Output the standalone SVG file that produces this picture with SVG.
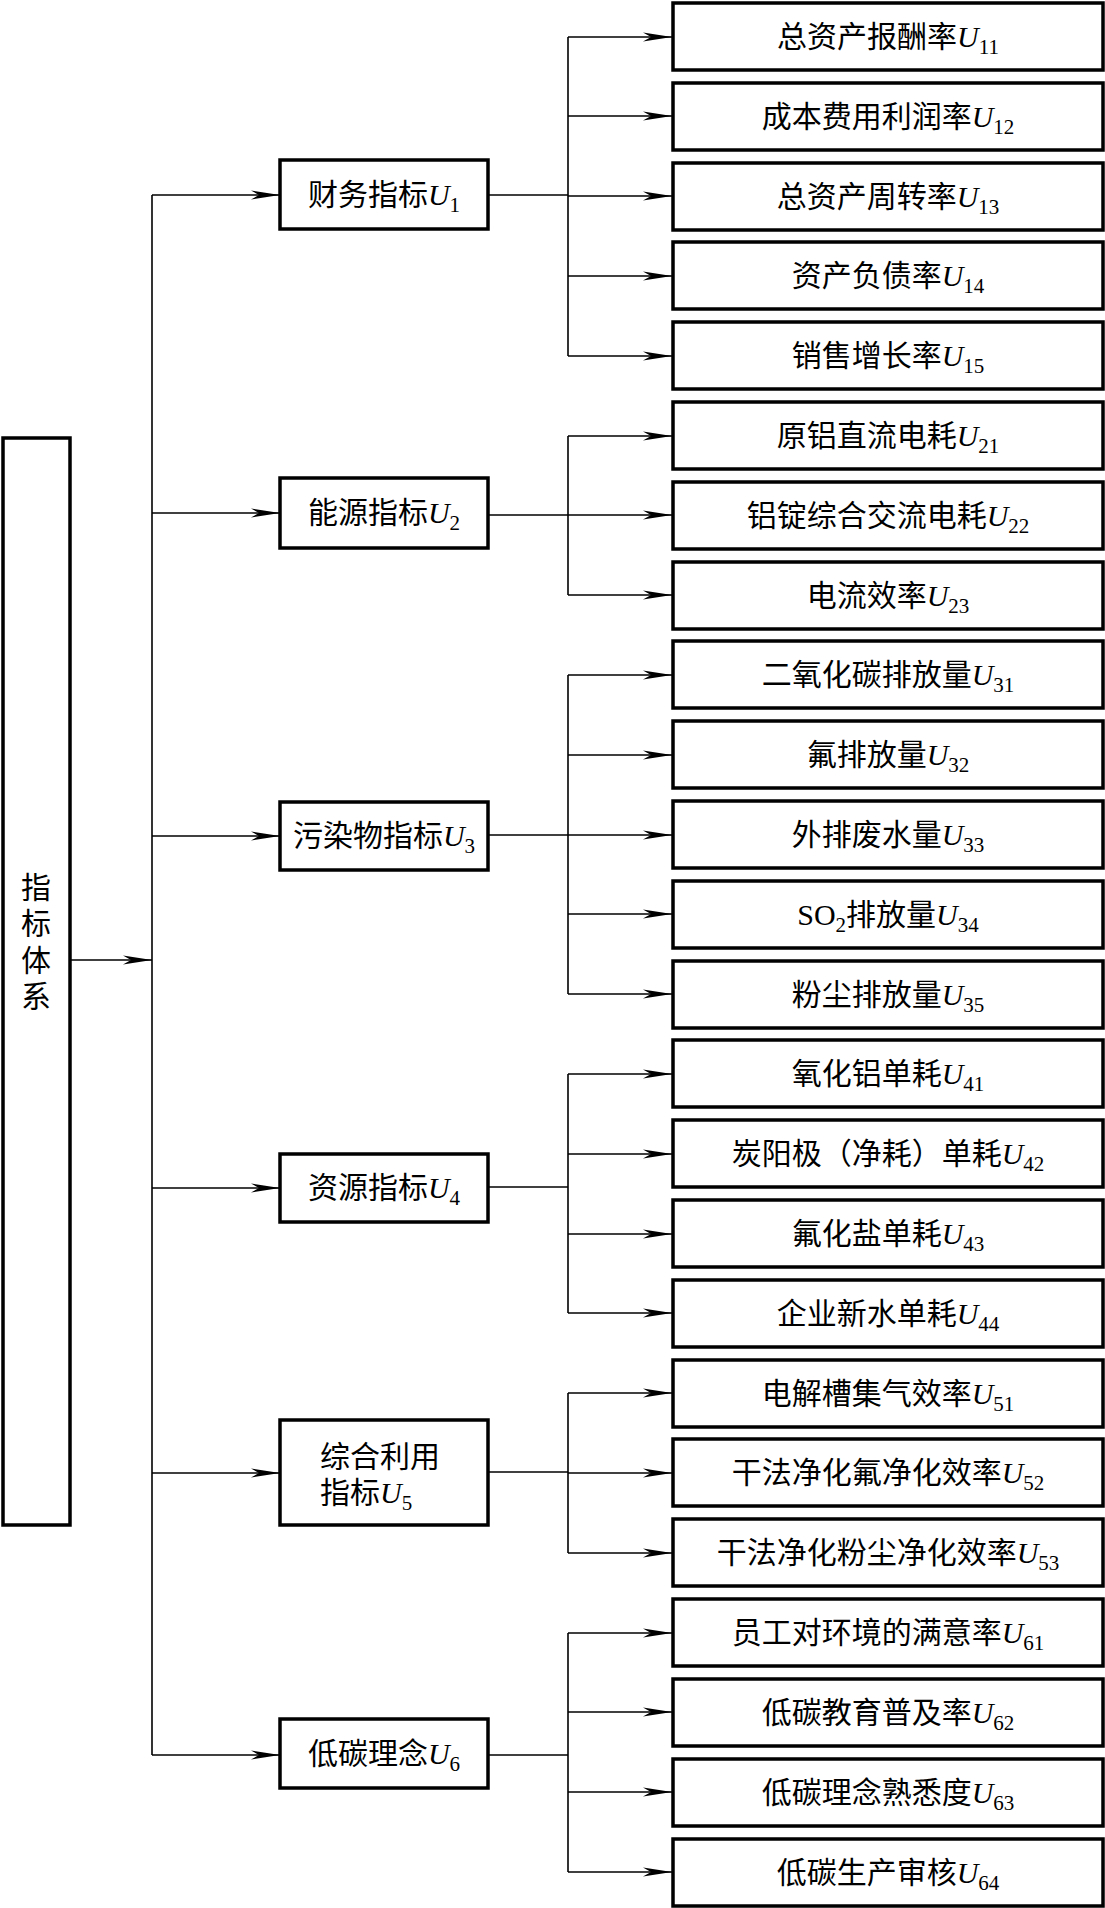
<svg xmlns="http://www.w3.org/2000/svg" width="1105" height="1908" viewBox="0 0 1105 1908">
<style>
.box{fill:#fff;stroke:#000;stroke-width:3.5}
.ln{stroke:#000;stroke-width:1.6;fill:none}
.t{font-family:"Liberation Serif","Noto Sans CJK SC",serif;font-size:30px;fill:#000}
.c{text-anchor:middle}
.u{font-style:italic}
.s{font-size:21px}
</style>
<defs>
<marker id="ah" markerUnits="userSpaceOnUse" markerWidth="30" markerHeight="12" refX="29" refY="5" orient="auto">
<path d="M0,0.5 L29,5 L0,9.5 L8,5 Z" fill="#000"/>
</marker>
</defs>
<rect width="1105" height="1908" fill="#fff"/>

<g id="connectors">
<!-- root to trunk -->
<line class="ln" x1="70" y1="960" x2="152" y2="960" marker-end="url(#ah)"/>
<line class="ln" x1="152" y1="195" x2="152" y2="1755"/>
<!-- trunk to mid -->
<line class="ln" x1="152" y1="195" x2="280" y2="195" marker-end="url(#ah)"/>
<line class="ln" x1="152" y1="513" x2="280" y2="513" marker-end="url(#ah)"/>
<line class="ln" x1="152" y1="836" x2="280" y2="836" marker-end="url(#ah)"/>
<line class="ln" x1="152" y1="1188" x2="280" y2="1188" marker-end="url(#ah)"/>
<line class="ln" x1="152" y1="1473" x2="280" y2="1473" marker-end="url(#ah)"/>
<line class="ln" x1="152" y1="1755" x2="280" y2="1755" marker-end="url(#ah)"/>
<!-- mid to branch lines -->
<line class="ln" x1="488" y1="195" x2="568" y2="195"/>
<line class="ln" x1="488" y1="515" x2="568" y2="515"/>
<line class="ln" x1="488" y1="835" x2="568" y2="835"/>
<line class="ln" x1="488" y1="1187" x2="568" y2="1187"/>
<line class="ln" x1="488" y1="1472" x2="568" y2="1472"/>
<line class="ln" x1="488" y1="1755" x2="568" y2="1755"/>
<!-- vertical branch lines -->
<line class="ln" x1="568" y1="37" x2="568" y2="356"/>
<line class="ln" x1="568" y1="436" x2="568" y2="595"/>
<line class="ln" x1="568" y1="675" x2="568" y2="994"/>
<line class="ln" x1="568" y1="1074" x2="568" y2="1313"/>
<line class="ln" x1="568" y1="1393" x2="568" y2="1553"/>
<line class="ln" x1="568" y1="1633" x2="568" y2="1872"/>
<!-- branch arrows -->
<g marker-end="url(#ah)">
<line class="ln" x1="568" y1="37" x2="672" y2="37"/>
<line class="ln" x1="568" y1="116" x2="672" y2="116"/>
<line class="ln" x1="568" y1="196" x2="672" y2="196"/>
<line class="ln" x1="568" y1="276" x2="672" y2="276"/>
<line class="ln" x1="568" y1="356" x2="672" y2="356"/>
<line class="ln" x1="568" y1="436" x2="672" y2="436"/>
<line class="ln" x1="568" y1="515" x2="672" y2="515"/>
<line class="ln" x1="568" y1="595" x2="672" y2="595"/>
<line class="ln" x1="568" y1="675" x2="672" y2="675"/>
<line class="ln" x1="568" y1="755" x2="672" y2="755"/>
<line class="ln" x1="568" y1="835" x2="672" y2="835"/>
<line class="ln" x1="568" y1="914" x2="672" y2="914"/>
<line class="ln" x1="568" y1="994" x2="672" y2="994"/>
<line class="ln" x1="568" y1="1074" x2="672" y2="1074"/>
<line class="ln" x1="568" y1="1154" x2="672" y2="1154"/>
<line class="ln" x1="568" y1="1234" x2="672" y2="1234"/>
<line class="ln" x1="568" y1="1313" x2="672" y2="1313"/>
<line class="ln" x1="568" y1="1393" x2="672" y2="1393"/>
<line class="ln" x1="568" y1="1473" x2="672" y2="1473"/>
<line class="ln" x1="568" y1="1553" x2="672" y2="1553"/>
<line class="ln" x1="568" y1="1633" x2="672" y2="1633"/>
<line class="ln" x1="568" y1="1712" x2="672" y2="1712"/>
<line class="ln" x1="568" y1="1792" x2="672" y2="1792"/>
<line class="ln" x1="568" y1="1872" x2="672" y2="1872"/>
</g>
</g>

<g id="root">
<rect class="box" x="3" y="438" width="67" height="1087"/>
<text class="t c" x="36" y="898">指</text>
<text class="t c" x="36" y="934">标</text>
<text class="t c" x="36" y="971">体</text>
<text class="t c" x="36" y="1007">系</text>
</g>

<g id="U1"><rect class="box" x="280" y="160" width="208" height="69"/>
<text class="t c" x="384" y="205">财务指标<tspan class="u">U</tspan><tspan class="s" dy="7">1</tspan></text></g>
<g id="U2"><rect class="box" x="280" y="478" width="208" height="70"/>
<text class="t c" x="384" y="523">能源指标<tspan class="u">U</tspan><tspan class="s" dy="7">2</tspan></text></g>
<g id="U3"><rect class="box" x="280" y="802" width="208" height="68"/>
<text class="t c" x="384" y="846">污染物指标<tspan class="u">U</tspan><tspan class="s" dy="7">3</tspan></text></g>
<g id="U4"><rect class="box" x="280" y="1154" width="208" height="68"/>
<text class="t c" x="384" y="1198">资源指标<tspan class="u">U</tspan><tspan class="s" dy="7">4</tspan></text></g>
<g id="U5"><rect class="box" x="280" y="1420" width="208" height="105"/>
<text class="t" x="320" y="1467">综合利用</text>
<text class="t" x="320" y="1503">指标<tspan class="u">U</tspan><tspan class="s" dy="7">5</tspan></text></g>
<g id="U6"><rect class="box" x="280" y="1719" width="208" height="69"/>
<text class="t c" x="384" y="1764">低碳理念<tspan class="u">U</tspan><tspan class="s" dy="7">6</tspan></text></g>

<g id="U11"><rect class="box" x="673" y="3" width="430" height="67"/><text class="t c" x="888" y="47">总资产报酬率<tspan class="u">U</tspan><tspan class="s" dy="7">11</tspan></text></g>
<g id="U12"><rect class="box" x="673" y="83" width="430" height="67"/><text class="t c" x="888" y="127">成本费用利润率<tspan class="u">U</tspan><tspan class="s" dy="7">12</tspan></text></g>
<g id="U13"><rect class="box" x="673" y="163" width="430" height="67"/><text class="t c" x="888" y="207">总资产周转率<tspan class="u">U</tspan><tspan class="s" dy="7">13</tspan></text></g>
<g id="U14"><rect class="box" x="673" y="242" width="430" height="67"/><text class="t c" x="888" y="286">资产负债率<tspan class="u">U</tspan><tspan class="s" dy="7">14</tspan></text></g>
<g id="U15"><rect class="box" x="673" y="322" width="430" height="67"/><text class="t c" x="888" y="366">销售增长率<tspan class="u">U</tspan><tspan class="s" dy="7">15</tspan></text></g>
<g id="U21"><rect class="box" x="673" y="402" width="430" height="67"/><text class="t c" x="888" y="446">原铝直流电耗<tspan class="u">U</tspan><tspan class="s" dy="7">21</tspan></text></g>
<g id="U22"><rect class="box" x="673" y="482" width="430" height="67"/><text class="t c" x="888" y="526">铝锭综合交流电耗<tspan class="u">U</tspan><tspan class="s" dy="7">22</tspan></text></g>
<g id="U23"><rect class="box" x="673" y="562" width="430" height="67"/><text class="t c" x="888" y="606">电流效率<tspan class="u">U</tspan><tspan class="s" dy="7">23</tspan></text></g>
<g id="U31"><rect class="box" x="673" y="641" width="430" height="67"/><text class="t c" x="888" y="685">二氧化碳排放量<tspan class="u">U</tspan><tspan class="s" dy="7">31</tspan></text></g>
<g id="U32"><rect class="box" x="673" y="721" width="430" height="67"/><text class="t c" x="888" y="765">氟排放量<tspan class="u">U</tspan><tspan class="s" dy="7">32</tspan></text></g>
<g id="U33"><rect class="box" x="673" y="801" width="430" height="67"/><text class="t c" x="888" y="845">外排废水量<tspan class="u">U</tspan><tspan class="s" dy="7">33</tspan></text></g>
<g id="U34"><rect class="box" x="673" y="881" width="430" height="67"/><text class="t c" x="888" y="925">SO<tspan class="s" dy="7">2</tspan><tspan dy="-7">排放量</tspan><tspan class="u">U</tspan><tspan class="s" dy="7">34</tspan></text></g>
<g id="U35"><rect class="box" x="673" y="961" width="430" height="67"/><text class="t c" x="888" y="1005">粉尘排放量<tspan class="u">U</tspan><tspan class="s" dy="7">35</tspan></text></g>
<g id="U41"><rect class="box" x="673" y="1040" width="430" height="67"/><text class="t c" x="888" y="1084">氧化铝单耗<tspan class="u">U</tspan><tspan class="s" dy="7">41</tspan></text></g>
<g id="U42"><rect class="box" x="673" y="1120" width="430" height="67"/><text class="t c" x="888" y="1164">炭阳极（净耗）单耗<tspan class="u">U</tspan><tspan class="s" dy="7">42</tspan></text></g>
<g id="U43"><rect class="box" x="673" y="1200" width="430" height="67"/><text class="t c" x="888" y="1244">氟化盐单耗<tspan class="u">U</tspan><tspan class="s" dy="7">43</tspan></text></g>
<g id="U44"><rect class="box" x="673" y="1280" width="430" height="67"/><text class="t c" x="888" y="1324">企业新水单耗<tspan class="u">U</tspan><tspan class="s" dy="7">44</tspan></text></g>
<g id="U51"><rect class="box" x="673" y="1360" width="430" height="67"/><text class="t c" x="888" y="1404">电解槽集气效率<tspan class="u">U</tspan><tspan class="s" dy="7">51</tspan></text></g>
<g id="U52"><rect class="box" x="673" y="1439" width="430" height="67"/><text class="t c" x="888" y="1483">干法净化氟净化效率<tspan class="u">U</tspan><tspan class="s" dy="7">52</tspan></text></g>
<g id="U53"><rect class="box" x="673" y="1519" width="430" height="67"/><text class="t c" x="888" y="1563">干法净化粉尘净化效率<tspan class="u">U</tspan><tspan class="s" dy="7">53</tspan></text></g>
<g id="U61"><rect class="box" x="673" y="1599" width="430" height="67"/><text class="t c" x="888" y="1643">员工对环境的满意率<tspan class="u">U</tspan><tspan class="s" dy="7">61</tspan></text></g>
<g id="U62"><rect class="box" x="673" y="1679" width="430" height="67"/><text class="t c" x="888" y="1723">低碳教育普及率<tspan class="u">U</tspan><tspan class="s" dy="7">62</tspan></text></g>
<g id="U63"><rect class="box" x="673" y="1759" width="430" height="67"/><text class="t c" x="888" y="1803">低碳理念熟悉度<tspan class="u">U</tspan><tspan class="s" dy="7">63</tspan></text></g>
<g id="U64"><rect class="box" x="673" y="1839" width="430" height="67"/><text class="t c" x="888" y="1883">低碳生产审核<tspan class="u">U</tspan><tspan class="s" dy="7">64</tspan></text></g>
</svg>
